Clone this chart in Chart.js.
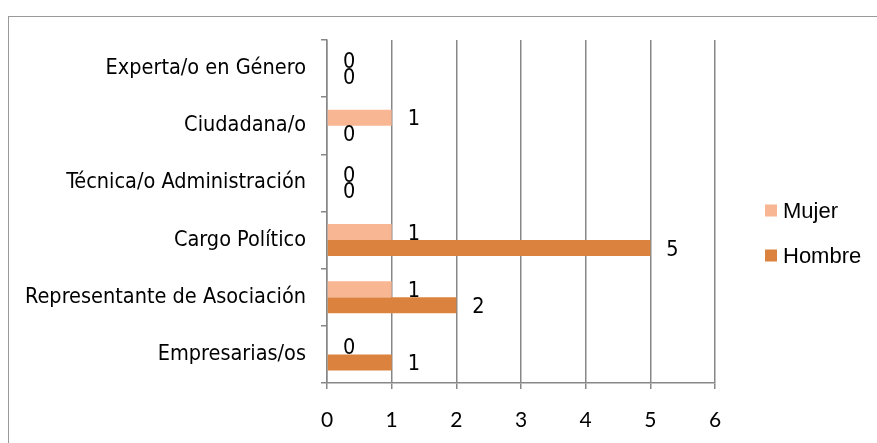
<!DOCTYPE html>
<html>
<head>
<meta charset="utf-8">
<script src="https://cdn.jsdelivr.net/npm/chart.js@4/dist/chart.umd.min.js"></script>
<style>
  body { margin: 0; background: #fff; }
  #wrap { position: relative; width: 877px; height: 443px; overflow: hidden; }
  #frame { position: absolute; left: 8px; top: 16px; width: 900px; height: 500px; border: 1.5px solid #9a9a9a; }
  canvas { position: absolute; left: 0; top: 0; }
</style>
</head>
<body>
<div id="wrap">
  <div id="frame"></div>
  <canvas id="graph" width="877" height="443"></canvas>
</div>
<script>
var categories = ["Experta/o en Género", "Ciudadana/o", "Técnica/o Administración",
  "Cargo Político", "Representante de Asociación", "Empresarias/os"];
var mujer = [0, 1, 0, 1, 1, 0];
var hombre = [0, 0, 0, 5, 2, 1];
var xTicks = [0, 1, 2, 3, 4, 5, 6];

var colors = ["#F8B692", "#DB833E"];
var axisGray = "#878787";
var narrow = "'DejaVu Sans Condensed', sans-serif";

// numbers next to the bar ends
var valueLabels = {
  id: 'valueLabels',
  afterDatasetsDraw: function(chart) {
    var ctx = chart.ctx;
    ctx.save();
    ctx.fillStyle = "#000";
    ctx.font = "21.5px " + narrow;
    ctx.textAlign = "left";
    ctx.textBaseline = "middle";
    chart.data.datasets.forEach(function(ds, i) {
      var meta = chart.getDatasetMeta(i);
      meta.data.forEach(function(bar, j) {
        ctx.fillText(String(ds.data[j]), bar.x + 16, bar.y + 2);
      });
    });
    ctx.restore();
  }
};

// legend on the right, two rows spread apart
var sideLegend = {
  id: 'sideLegend',
  afterDraw: function(chart) {
    var ctx = chart.ctx;
    var area = chart.chartArea;
    var mid = (area.top + area.bottom) / 2;
    var x = area.right + 50;
    ctx.save();
    ctx.font = "22px 'Liberation Sans', Arial, sans-serif";
    ctx.textAlign = "left";
    ctx.textBaseline = "middle";
    chart.data.datasets.forEach(function(ds, i) {
      var y = mid - 1 + i * 45;
      ctx.fillStyle = ds.backgroundColor;
      ctx.fillRect(x, y - 6, 12, 12);
      ctx.fillStyle = "#000";
      ctx.fillText(ds.label, x + 18, y + 1);
    });
    ctx.restore();
  }
};

var ctx = document.getElementById("graph").getContext('2d');

var chart = new Chart(ctx, {
  type: 'bar',
  data: {
    labels: categories,
    datasets: [
      { label: 'Mujer', data: mujer, backgroundColor: colors[0] },
      { label: 'Hombre', data: hombre, backgroundColor: colors[1] }
    ]
  },
  options: {
    indexAxis: 'y',
    responsive: false,
    animation: false,
    categoryPercentage: 0.56,
    barPercentage: 1,
    layout: { padding: { top: 40, bottom: 0, left: 10, right: 162 } },
    plugins: {
      tooltip: { enabled: false },
      legend: { display: false }
    },
    scales: {
      x: {
        min: 0,
        max: 6,
        afterBuildTicks: function(scale) {
          scale.ticks = xTicks.map(function(v) { return { value: v }; });
        },
        afterFit: function(scale) { scale.height = 60; },
        grid: { color: axisGray, lineWidth: 1.5, tickLength: 6 },
        border: { color: axisGray, width: 1.5 },
        ticks: { color: "#000", padding: 19, font: { family: "Lato, sans-serif", size: 21 } }
      },
      y: {
        afterFit: function(scale) { scale.width = 317; },
        grid: { offset: true, drawOnChartArea: false, color: axisGray, lineWidth: 1.5, tickLength: 6 },
        border: { color: axisGray, width: 1.5 },
        ticks: { color: "#000", padding: 15, font: { family: narrow, size: 21.5 } }
      }
    }
  },
  plugins: [valueLabels, sideLegend]
});
</script>
</body>
</html>
